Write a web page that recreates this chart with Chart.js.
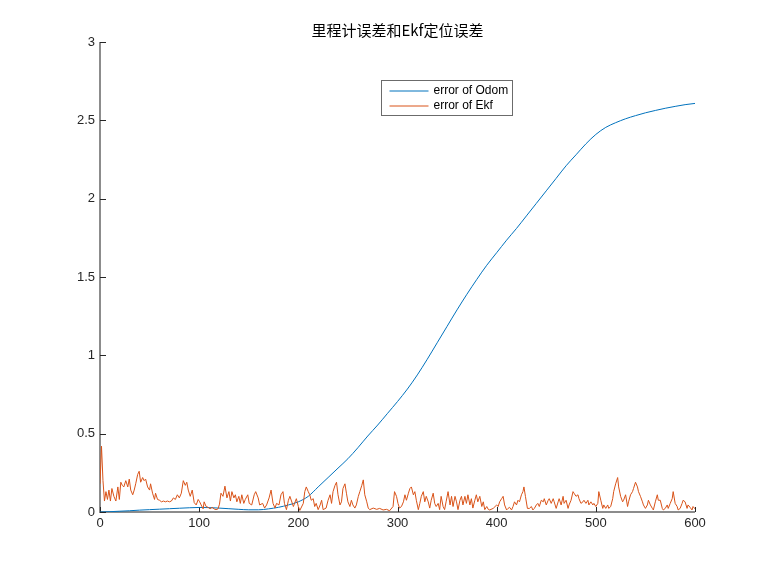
<!DOCTYPE html>
<html>
<head>
<meta charset="utf-8">
<script src="https://cdn.jsdelivr.net/npm/chart.js@4"></script>
<style>
  html, body { margin: 0; padding: 0; background: #ffffff; }
  canvas { display: block; }
</style>
</head>
<body>
<canvas id="c" width="768" height="576"></canvas>
<script>
// ---- data ----
const titleText = '里程计误差和Ekf定位误差';
const seriesNames = ['error of Odom', 'error of Ekf'];
const seriesColors = ['#0072BD', '#D95319'];
const xTicks = [0, 100, 200, 300, 400, 500, 600];
const yTicks = [0, 0.5, 1, 1.5, 2, 2.5, 3];

// odometry error
const odomX = [0, 10, 20, 30, 40, 50, 60, 70, 80, 90,
  100, 110, 120, 130, 140, 150, 160, 170, 180, 190,
  200, 210, 220, 230, 240, 250, 260, 270, 280, 290,
  300, 310, 320, 330, 340, 350, 360, 370, 380, 390,
  400, 410, 420, 430, 440, 450, 460, 470, 480, 490,
  500, 510, 520, 530, 540, 550, 560, 570, 580, 590, 600];
const odomY = [0, 0.002, 0.005, 0.008, 0.012, 0.015, 0.018, 0.021, 0.024, 0.027,
  0.029, 0.028, 0.025, 0.021, 0.017, 0.014, 0.014, 0.02, 0.03, 0.045,
  0.065, 0.1, 0.16, 0.22, 0.28, 0.34, 0.41, 0.485, 0.555, 0.63,
  0.705, 0.785, 0.875, 0.975, 1.08, 1.185, 1.29, 1.39, 1.485, 1.575,
  1.655, 1.735, 1.81, 1.89, 1.97, 2.05, 2.13, 2.21, 2.28, 2.35,
  2.41, 2.455, 2.485, 2.51, 2.53, 2.548, 2.563, 2.577, 2.589, 2.6, 2.608];

// EKF localisation error
const ekfX = [0, 1.5, 3, 4.5, 6, 7.5, 9, 10.5, 12, 14,
  16, 18, 19.5, 21, 22.5, 24, 26, 28, 29.5, 31,
  33, 34.5, 36, 38, 39.5, 41, 43, 44.5, 46, 48,
  50, 51, 53, 55, 56, 58, 60, 62, 64, 66,
  68, 70, 72, 74, 76, 78, 80, 82, 84, 86,
  87.5, 89, 91, 93, 95, 97, 99, 100.5, 102, 104,
  105, 107, 109, 111, 113, 115, 117, 119, 120.5, 122,
  124, 126, 128, 130, 131.5, 133, 135, 136.5, 138, 140,
  141.5, 143, 145, 146.5, 149, 150.5, 153, 155.5, 157, 159.5,
  161, 164, 166, 168, 170.5, 172.5, 174.5, 176.5, 178, 180.5,
  182.5, 184.5, 186, 188, 190, 191.5, 195, 198, 200, 201.5,
  205, 206.5, 208, 210, 211.5, 213, 215, 216.5, 218, 220,
  222, 223.5, 225, 228, 230, 232, 233.5, 235, 237, 238.5,
  240, 242, 243.5, 245, 247, 248.5, 250, 252, 253.5, 255,
  257, 258.5, 260.5, 262, 264, 265.5, 267, 269, 270.5, 272,
  275.5, 279, 282, 285.5, 289, 292, 295.5, 297, 299, 300.5,
  302, 304, 306, 307.5, 309, 311, 312.5, 314, 316, 317.5,
  319, 321, 322.5, 324, 326, 327.5, 329, 331, 332.5, 334,
  336, 337.5, 339, 341, 342.5, 344, 346, 347.5, 349, 351,
  353, 354.5, 356, 358, 359.5, 361, 363, 364.5, 366, 368,
  369.5, 371, 373, 374.5, 376, 378, 379.5, 381, 383, 385,
  386.5, 388, 390, 391.5, 393, 396.5, 400, 401.5, 403, 405,
  406.5, 408, 410, 411.5, 413, 415, 416.5, 418, 420, 421.5,
  423, 425, 426.5, 427.5, 429, 431, 433, 435, 436.5, 438,
  440, 441.5, 443, 445, 447, 448, 450, 452, 453, 455,
  457, 458, 460, 462, 463, 465, 467, 468, 470, 472,
  473, 475, 477, 478, 480, 482, 483, 485, 487, 488,
  490, 492, 493, 495, 497, 498, 500, 502, 503, 505,
  507, 508, 510, 512, 513, 515, 517, 518, 520, 522,
  523, 525, 527, 528, 530, 532, 533, 535, 537, 538,
  540, 542, 543, 545, 547, 548, 550, 552, 553, 555,
  557, 558, 560, 562, 563, 565, 567, 568, 570, 572,
  573, 575, 577, 578, 580, 582, 583, 585, 587, 588,
  590, 592, 593, 595, 597, 598, 600];
const ekfY = [0.18, 0.42, 0.2, 0.07, 0.13, 0.08, 0.14, 0.07, 0.15, 0.1,
  0.07, 0.16, 0.08, 0.19, 0.17, 0.16, 0.2, 0.16, 0.21, 0.14,
  0.11, 0.14, 0.18, 0.24, 0.26, 0.19, 0.22, 0.2, 0.21, 0.16,
  0.14, 0.18, 0.12, 0.08, 0.12, 0.08, 0.075, 0.065, 0.07, 0.065,
  0.07, 0.065, 0.07, 0.09, 0.08, 0.11, 0.09, 0.12, 0.2, 0.17,
  0.19, 0.14, 0.1, 0.14, 0.06, 0.045, 0.08, 0.065, 0.045, 0.02,
  0.065, 0.035, 0.03, 0.02, 0.03, 0.02, 0.015, 0.02, 0.05, 0.12,
  0.1, 0.165, 0.09, 0.13, 0.07, 0.13, 0.09, 0.11, 0.065, 0.1,
  0.055, 0.11, 0.055, 0.08, 0.11, 0.055, 0.045, 0.11, 0.13, 0.09,
  0.045, 0.055, 0.025, 0.045, 0.09, 0.14, 0.055, 0.025, 0.055, 0.045,
  0.11, 0.13, 0.055, 0.015, 0.075, 0.1, 0.035, 0.085, 0.035, 0.01,
  0.055, 0.13, 0.16, 0.13, 0.11, 0.075, 0.085, 0.035, 0.055, 0.015,
  0.045, 0.075, 0.015, 0.025, 0.075, 0.11, 0.055, 0.13, 0.17, 0.19,
  0.11, 0.045, 0.065, 0.15, 0.18, 0.12, 0.065, 0.035, 0.075, 0.045,
  0.025, 0.045, 0.1, 0.13, 0.17, 0.205, 0.11, 0.065, 0.025, 0.015,
  0.025, 0.017, 0.023, 0.013, 0.017, 0.008, 0.035, 0.13, 0.1, 0.055,
  0.025, 0.035, 0.065, 0.11, 0.075, 0.12, 0.15, 0.16, 0.11, 0.13,
  0.075, 0.015, 0.055, 0.1, 0.13, 0.065, 0.1, 0.065, 0.025, 0.075,
  0.12, 0.055, 0.035, 0.055, 0.015, 0.1, 0.035, 0.015, 0.065, 0.13,
  0.045, 0.1, 0.035, 0.1, 0.065, 0.015, 0.075, 0.1, 0.045, 0.1,
  0.055, 0.11, 0.045, 0.085, 0.025, 0.075, 0.11, 0.065, 0.1, 0.035,
  0.065, 0.015, 0.035, 0.017, 0.013, 0.023, 0.045, 0.035, 0.065, 0.085,
  0.1, 0.045, 0.013, 0.023, 0.03, 0.013, 0.035, 0.065, 0.045, 0.075,
  0.065, 0.11, 0.13, 0.16, 0.1, 0.023, 0.023, 0.035, 0.013, 0.023,
  0.045, 0.055, 0.035, 0.075, 0.065, 0.085, 0.045, 0.075, 0.085, 0.055,
  0.085, 0.065, 0.023, 0.065, 0.085, 0.045, 0.1, 0.055, 0.075, 0.023,
  0.045, 0.075, 0.13, 0.12, 0.1, 0.11, 0.085, 0.055, 0.065, 0.075,
  0.055, 0.075, 0.045, 0.065, 0.045, 0.055, 0.035, 0.055, 0.13, 0.075,
  0.023, 0.045, 0.023, 0.045, 0.023, 0.035, 0.085, 0.13, 0.18, 0.22,
  0.16, 0.1, 0.065, 0.075, 0.11, 0.035, 0.065, 0.11, 0.13, 0.15,
  0.19, 0.16, 0.13, 0.1, 0.065, 0.045, 0.023, 0.045, 0.075, 0.045,
  0.023, 0.013, 0.065, 0.11, 0.075, 0.075, 0.023, 0.013, 0.023, 0.045,
  0.023, 0.055, 0.085, 0.13, 0.055, 0.035, 0.013, 0.023, 0.055, 0.075,
  0.065, 0.023, 0.045, 0.03, 0.013, 0.035, 0.02];

// ---- helpers ----
const toPoints = (xs, ys) => xs.map((x, i) => ({ x: x, y: ys[i] }));
const tickFont = { family: "'Liberation Sans', Arial, sans-serif", size: 13 };
const axisGray = '#8c8c8c';
const tickInk = '#262626';

// axis lines with inward tick marks (box off)
const axesPlugin = {
  id: 'inwardAxes',
  beforeDatasetsDraw(chart) {
    const { ctx, chartArea: a, scales: { x, y } } = chart;
    ctx.save();
    ctx.strokeStyle = axisGray;
    ctx.lineWidth = 2;
    ctx.beginPath();
    ctx.moveTo(a.left, a.top);
    ctx.lineTo(a.left, a.bottom);
    ctx.lineTo(a.right, a.bottom);
    ctx.stroke();
    ctx.strokeStyle = tickInk;
    ctx.lineWidth = 1;
    ctx.beginPath();
    x.ticks.forEach(t => {
      const px = Math.round(x.getPixelForValue(t.value)) + 0.5;
      ctx.moveTo(px, a.bottom);
      ctx.lineTo(px, a.bottom - 5);
    });
    y.ticks.forEach(t => {
      const py = Math.round(y.getPixelForValue(t.value)) + 0.5;
      ctx.moveTo(a.left, py);
      ctx.lineTo(a.left + 6, py);
    });
    ctx.stroke();
    ctx.restore();
  }
};

// title centred over the plotting area
const titlePlugin = {
  id: 'axesTitle',
  afterDraw(chart) {
    const { ctx, chartArea: a } = chart;
    ctx.save();
    ctx.fillStyle = '#000000';
    ctx.font = "15px 'Noto Sans CJK SC', 'Liberation Sans', sans-serif";
    ctx.textAlign = 'center';
    ctx.textBaseline = 'middle';
    ctx.fillText(titleText, (a.left + a.right) / 2, a.top - 11.5);
    ctx.restore();
  }
};

// boxed legend inside the axes, upper middle
const legendPlugin = {
  id: 'boxLegend',
  afterDraw(chart) {
    const { ctx } = chart;
    const bx = 381.5, by = 80.5, bw = 131, bh = 35;
    ctx.save();
    ctx.fillStyle = '#ffffff';
    ctx.fillRect(bx, by, bw, bh);
    ctx.strokeStyle = '#6b6b6b';
    ctx.lineWidth = 1;
    ctx.strokeRect(bx, by, bw, bh);
    ctx.font = "12px 'Liberation Sans', Arial, sans-serif";
    ctx.textBaseline = 'middle';
    ctx.textAlign = 'left';
    seriesNames.forEach((name, i) => {
      const ry = by + 10.5 + i * 15;
      ctx.strokeStyle = seriesColors[i];
      ctx.beginPath();
      ctx.moveTo(bx + 8, ry);
      ctx.lineTo(bx + 47, ry);
      ctx.stroke();
      ctx.fillStyle = '#000000';
      ctx.fillText(name, bx + 52, ry);
    });
    ctx.restore();
  }
};

new Chart(document.getElementById('c'), {
  type: 'line',
  data: {
    datasets: [
      {
        label: seriesNames[0],
        data: toPoints(odomX, odomY),
        borderColor: seriesColors[0],
        borderWidth: 1,
        pointRadius: 0,
        cubicInterpolationMode: 'monotone',
        fill: false,
        order: 1
      },
      {
        label: seriesNames[1],
        data: toPoints(ekfX, ekfY),
        borderColor: seriesColors[1],
        borderWidth: 1,
        pointRadius: 0,
        tension: 0,
        fill: false,
        order: 0
      }
    ]
  },
  options: {
    responsive: false,
    animation: false,
    devicePixelRatio: 1,
    layout: { padding: { left: 0, right: 73, top: 42, bottom: 0 } },
    plugins: {
      legend: { display: false },
      tooltip: { enabled: false },
      title: { display: false }
    },
    scales: {
      x: {
        type: 'linear',
        min: 0,
        max: 600,
        afterBuildTicks: s => { s.ticks = xTicks.map(v => ({ value: v })); },
        afterFit: s => { s.height = 64; },
        grid: { display: false, drawTicks: false },
        border: { display: false },
        ticks: { color: tickInk, font: tickFont, padding: 4, maxRotation: 0, callback: v => String(v) }
      },
      y: {
        type: 'linear',
        min: 0,
        max: 3,
        afterBuildTicks: s => { s.ticks = yTicks.map(v => ({ value: v })); },
        afterFit: s => { s.width = 100; },
        grid: { display: false, drawTicks: false },
        border: { display: false },
        ticks: { color: tickInk, font: tickFont, padding: 5, callback: v => String(v) }
      }
    }
  },
  plugins: [axesPlugin, titlePlugin, legendPlugin]
});
</script>
</body>
</html>
